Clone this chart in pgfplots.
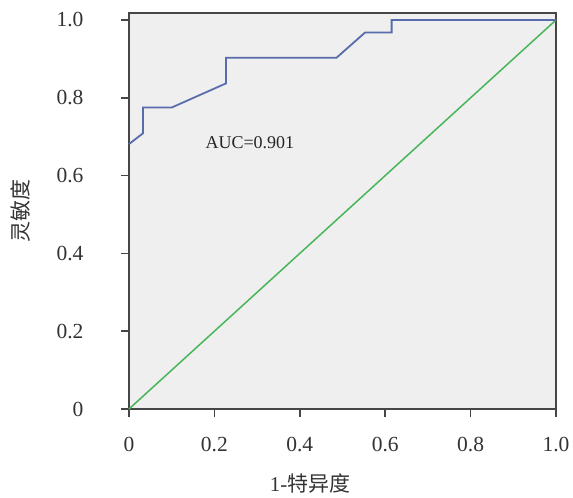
\documentclass[border=0pt]{standalone}
\usepackage{fontspec}
\setmainfont{Liberation Serif}
\newfontfamily\cjk{Noto Sans CJK SC}
\usepackage{pgfplots}
\pgfplotsset{compat=1.18}
\definecolor{rocblue}{RGB}{88,108,172}
\definecolor{refgreen}{RGB}{72,182,88}
\definecolor{panel}{RGB}{239,239,239}
\definecolor{frame}{RGB}{70,70,70}

\begin{document}
\begin{tikzpicture}[x=1pt,y=1pt]
  \begin{axis}[
      scale only axis, width=427pt, height=396pt,
      xmin=0, xmax=1, ymin=0, ymax=1.018,
      axis background/.style={fill=panel},
      axis line style={frame, line width=1.6pt},
      tick style={frame, line width=1.6pt},
      tick align=outside, major tick length=8pt,
      xtick pos=bottom, ytick pos=left,
      xtick={0,0.2,0.4,0.6,0.8,1},
      xticklabels={0,0.2,0.4,0.6,0.8,1.0},
      ytick={0,0.2,0.4,0.6,0.8,1},
      yticklabels={0,0.2,0.4,0.6,0.8,1.0},
      ticklabel style={font=\fontsize{21.5}{25}\selectfont, text=black!80},
      xticklabel style={yshift=-17pt},
      yticklabel style={xshift=-34pt},
      /pgf/number format/assume math mode=true,
      clip=false,
    ]
    \addplot[refgreen, line width=1.5pt] coordinates {(0,0) (1,1)};
    \addplot[rocblue, line width=1.8pt] coordinates {
      (0,0.681) (0.033,0.709) (0.033,0.775) (0.10,0.775)
      (0.227,0.837) (0.227,0.903) (0.486,0.903) (0.553,0.968)
      (0.615,0.968) (0.615,1.0) (1.0,1.0)
    };
    \node[font=\fontsize{18}{22}\selectfont, text=black!85] at (axis cs:0.283,0.686) {AUC=0.901};
    \node[font=\fontsize{21}{25}\selectfont, text=black!80] at (axis cs:0.424,-0.192) {1-{\cjk 特异度}};
    \node[font=\fontsize{21}{25}\cjk, text=black!80, rotate=90] at (rel axis cs:-0.253,0.5) {灵敏度};
  \end{axis}
  \pgfresetboundingbox
  \path (-129,-89) rectangle (444,409);
\end{tikzpicture}
\end{document}
